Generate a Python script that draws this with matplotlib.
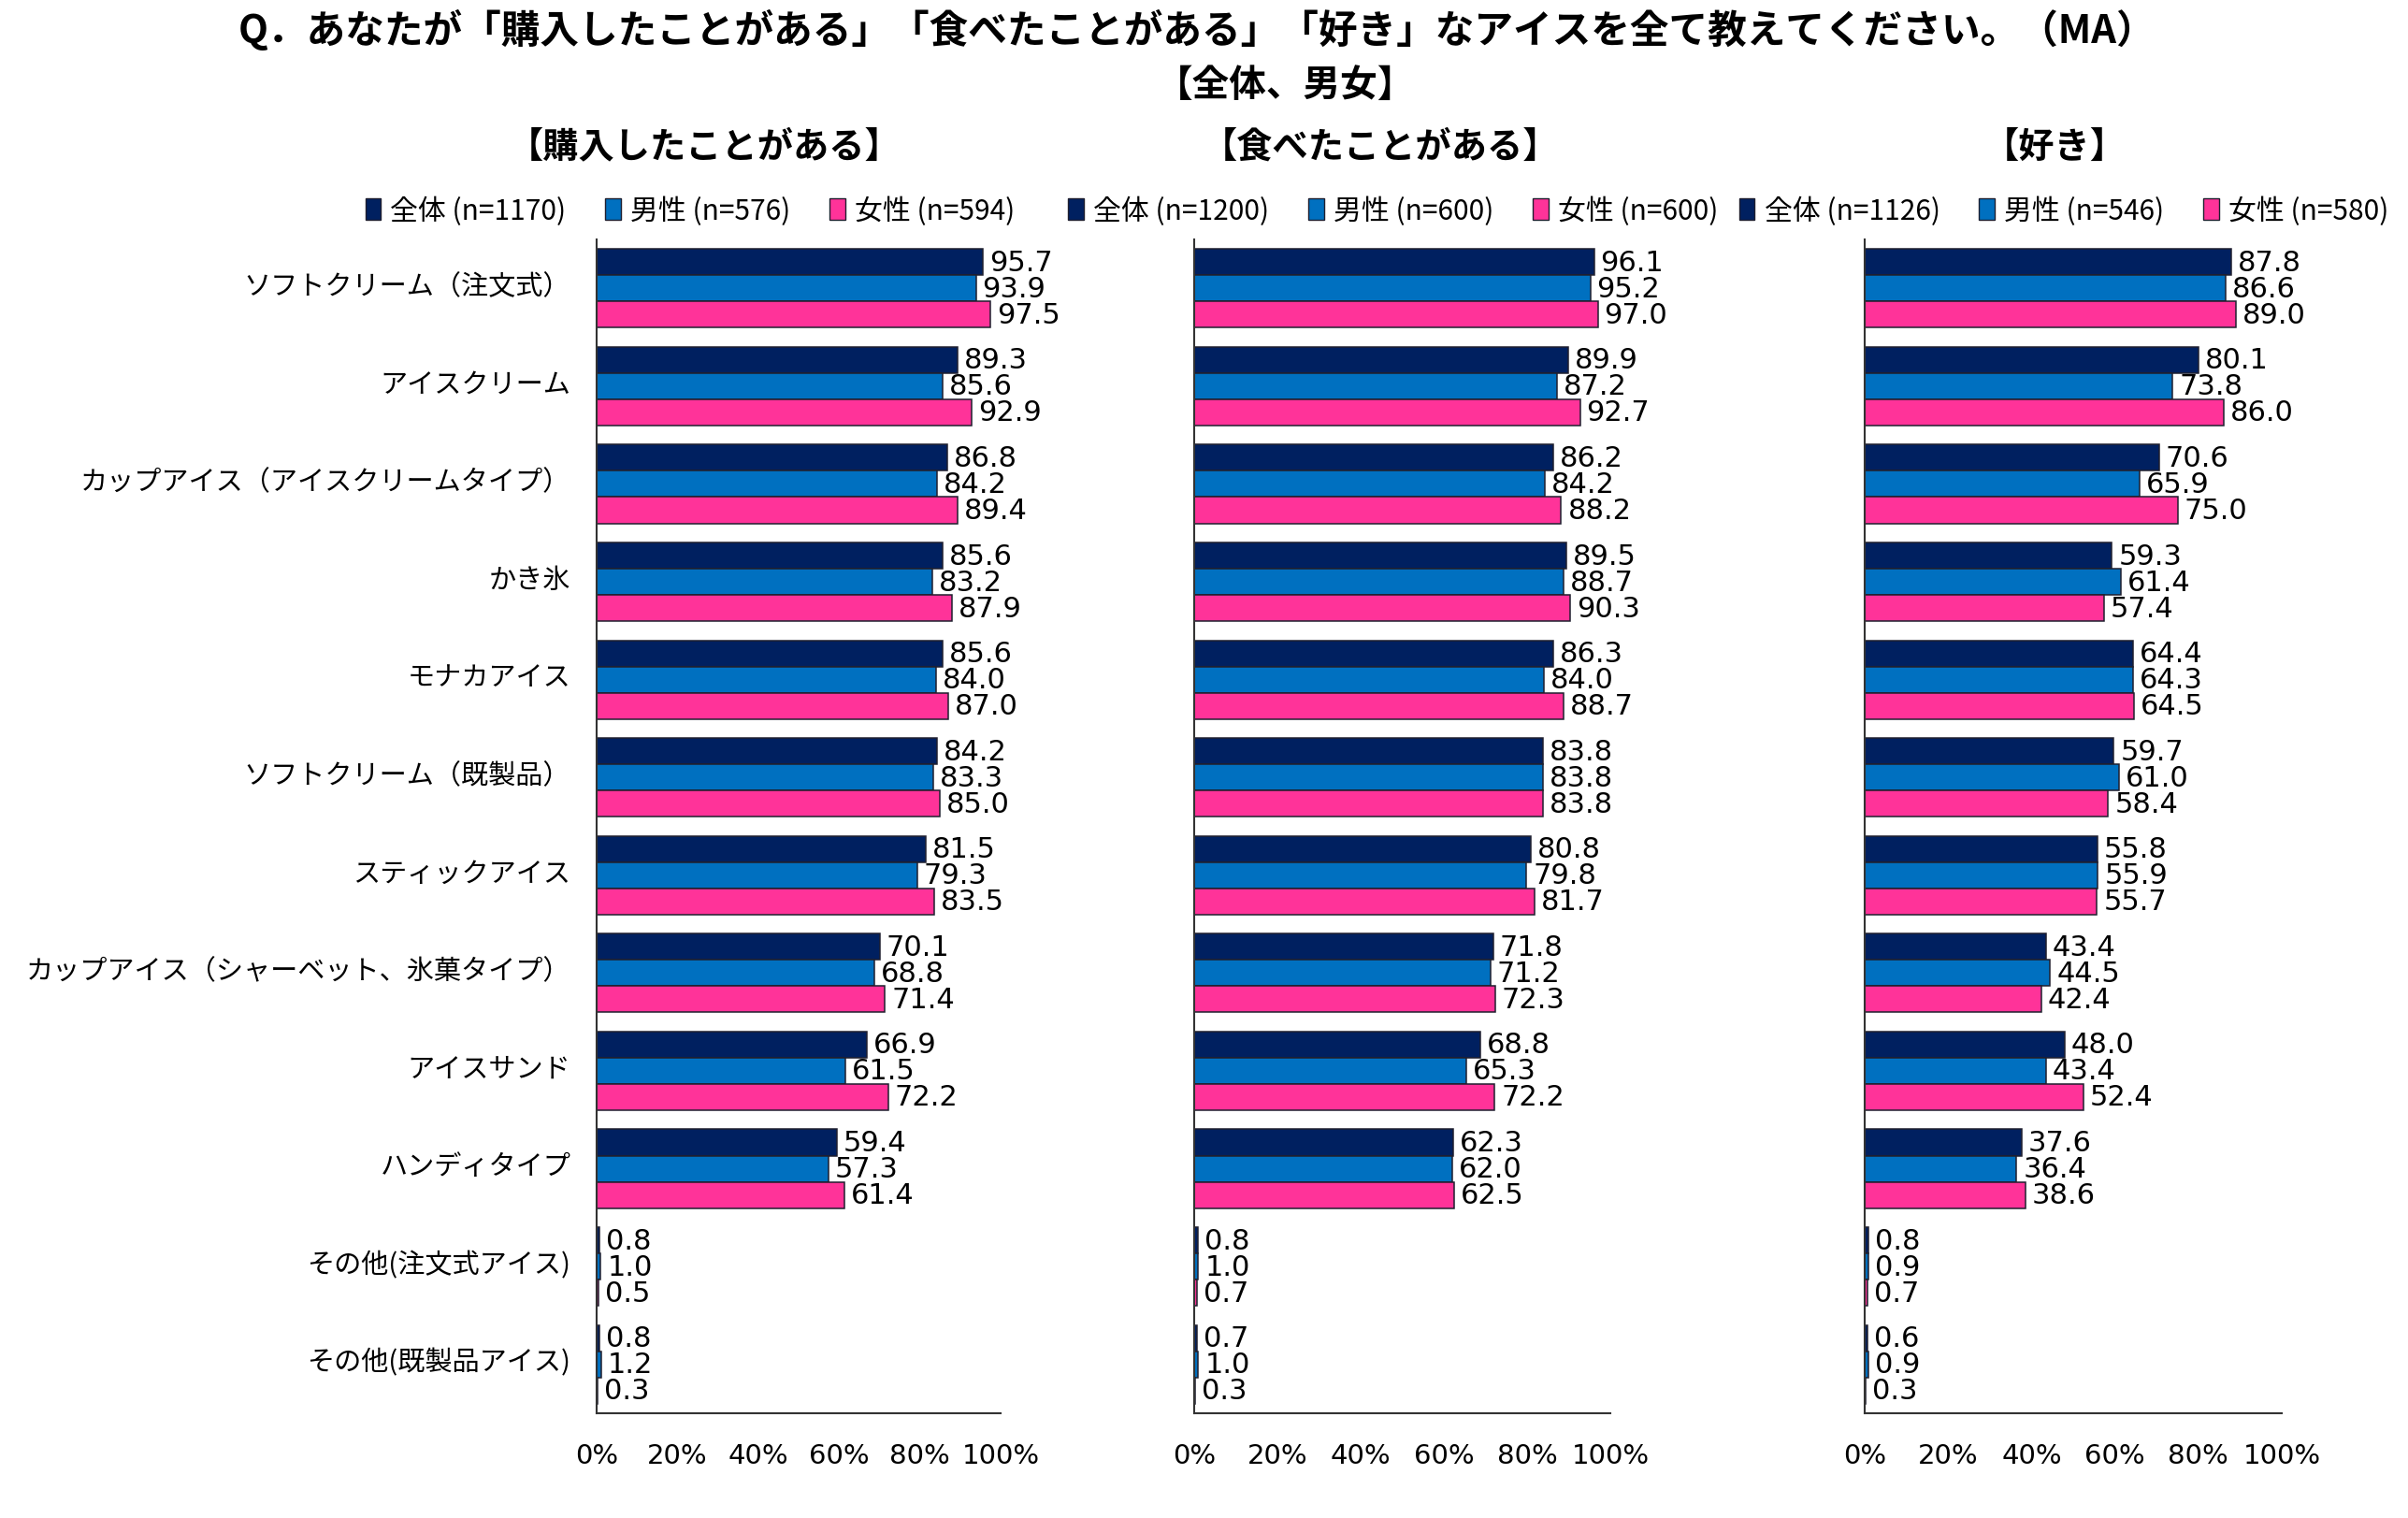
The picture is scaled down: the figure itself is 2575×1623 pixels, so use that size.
import matplotlib

matplotlib.use("Agg")
import matplotlib.pyplot as plt
import matplotlib.transforms as mtransforms
import numpy as np
from matplotlib.patches import Patch

plt.rcParams["font.family"] = ["Noto Sans CJK JP", "DejaVu Sans"]

categories = [
    "ソフトクリーム（注文式）",
    "アイスクリーム",
    "カップアイス（アイスクリームタイプ）",
    "かき氷",
    "モナカアイス",
    "ソフトクリーム（既製品）",
    "スティックアイス",
    "カップアイス（シャーベット、氷菓タイプ）",
    "アイスサンド",
    "ハンディタイプ",
    "その他(注文式アイス)",
    "その他(既製品アイス)",
]
seriesNames = ["全体", "男性", "女性"]

panelTitles = ["【購入したことがある】", "【食べたことがある】", "【好き】"]
sampleSizes = [[1170, 576, 594], [1200, 600, 600], [1126, 546, 580]]

purchasedAll = [95.7, 89.3, 86.8, 85.6, 85.6, 84.2, 81.5, 70.1, 66.9, 59.4, 0.8, 0.8]
purchasedMale = [93.9, 85.6, 84.2, 83.2, 84.0, 83.3, 79.3, 68.8, 61.5, 57.3, 1.0, 1.2]
purchasedFemale = [97.5, 92.9, 89.4, 87.9, 87.0, 85.0, 83.5, 71.4, 72.2, 61.4, 0.5, 0.3]

eatenAll = [96.1, 89.9, 86.2, 89.5, 86.3, 83.8, 80.8, 71.8, 68.8, 62.3, 0.8, 0.7]
eatenMale = [95.2, 87.2, 84.2, 88.7, 84.0, 83.8, 79.8, 71.2, 65.3, 62.0, 1.0, 1.0]
eatenFemale = [97.0, 92.7, 88.2, 90.3, 88.7, 83.8, 81.7, 72.3, 72.2, 62.5, 0.7, 0.3]

likedAll = [87.8, 80.1, 70.6, 59.3, 64.4, 59.7, 55.8, 43.4, 48.0, 37.6, 0.8, 0.6]
likedMale = [86.6, 73.8, 65.9, 61.4, 64.3, 61.0, 55.9, 44.5, 43.4, 36.4, 0.9, 0.9]
likedFemale = [89.0, 86.0, 75.0, 57.4, 64.5, 58.4, 55.7, 42.4, 52.4, 38.6, 0.7, 0.3]

xTicks = [0, 20, 40, 60, 80, 100]

colors = ["#002060", "#0070C0", "#FF3399"]
edgeColor = "#1f1f2f"

W, H = 2575, 1624
fig = plt.figure(figsize=(W / 100, H / 100), dpi=100)

# axes boxes in pixels: (left, right)
axesSpan = [(638, 1070), (1277, 1722), (1994, 2440)]
axesTop, axesBottom = 257, 1512
legendCenters = [738, 1490, 2207]

panelData = [
    (purchasedAll, purchasedMale, purchasedFemale),
    (eatenAll, eatenMale, eatenFemale),
    (likedAll, likedMale, likedFemale),
]

barH = 0.268
yPos = np.arange(len(categories))

for p, (left, right) in enumerate(axesSpan):
    ax = fig.add_axes(
        [left / W, 1 - axesBottom / H, (right - left) / W, (axesBottom - axesTop) / H]
    )
    for s, values in enumerate(panelData[p]):
        offs = (s - 1) * barH
        bars = ax.barh(
            yPos + offs,
            values,
            height=barH,
            color=colors[s],
            edgecolor=edgeColor,
            linewidth=1.1,
        )
        for bar, v in zip(bars, values):
            ax.annotate(
                f"{v:.1f}",
                (bar.get_width(), bar.get_y() + bar.get_height() / 2),
                xytext=(5, 0),
                textcoords="offset points",
                va="center",
                ha="left",
                fontsize=22,
                family="DejaVu Sans",
            )

    ax.set_xlim(0, 100)
    ax.set_ylim(len(categories) - 0.5, -0.5)
    ax.set_xticks(xTicks)
    ax.set_xticklabels([f"{t}%" for t in xTicks], family="DejaVu Sans", fontsize=21)
    ax.tick_params(axis="x", length=0, pad=22)
    ax.set_yticks(yPos)
    if p == 0:
        ax.set_yticklabels(categories, fontsize=21)
        ax.tick_params(axis="y", length=0, pad=20)
        # nudge the category names up a little
        shift = mtransforms.ScaledTranslation(0, 4 / 72, fig.dpi_scale_trans)
        for lbl in ax.get_yticklabels():
            lbl.set_transform(lbl.get_transform() + shift)
    else:
        ax.set_yticklabels([])
        ax.tick_params(axis="y", length=0)
    for side in ["top", "right"]:
        ax.spines[side].set_visible(False)
    for side in ["left", "bottom"]:
        ax.spines[side].set_color("#333333")
        ax.spines[side].set_linewidth(1.5)

    handles = [
        Patch(facecolor=colors[s], edgecolor=edgeColor, linewidth=1.0)
        for s in range(3)
    ]
    labels = [f"{seriesNames[s]} (n={sampleSizes[p][s]})" for s in range(3)]
    fig.legend(
        handles,
        labels,
        ncol=3,
        loc="center",
        bbox_to_anchor=(legendCenters[p] / W, 1 - 226 / H),
        frameon=False,
        fontsize=21.5,
        handlelength=0.55,
        handleheight=0.8,
        handletextpad=0.35,
        columnspacing=1.4,
    )

titleCenters = [753, 1476, 2197]
for p, title in enumerate(panelTitles):
    fig.text(
        titleCenters[p] / W,
        1 - 157 / H,
        title,
        ha="center",
        va="center",
        fontsize=27.5,
        fontweight="bold",
    )

fig.text(
    1280 / W,
    1 - 33 / H,
    "Q．あなたが「購入したことがある」「食べたことがある」「好き」なアイスを全て教えてください。（MA）",
    ha="center",
    va="center",
    fontsize=30,
    fontweight="bold",
)
fig.text(
    1375 / W,
    1 - 91 / H,
    "【全体、男女】",
    ha="center",
    va="center",
    fontsize=28.5,
    fontweight="bold",
)

fig.savefig("out.png", dpi=100, facecolor="white")
